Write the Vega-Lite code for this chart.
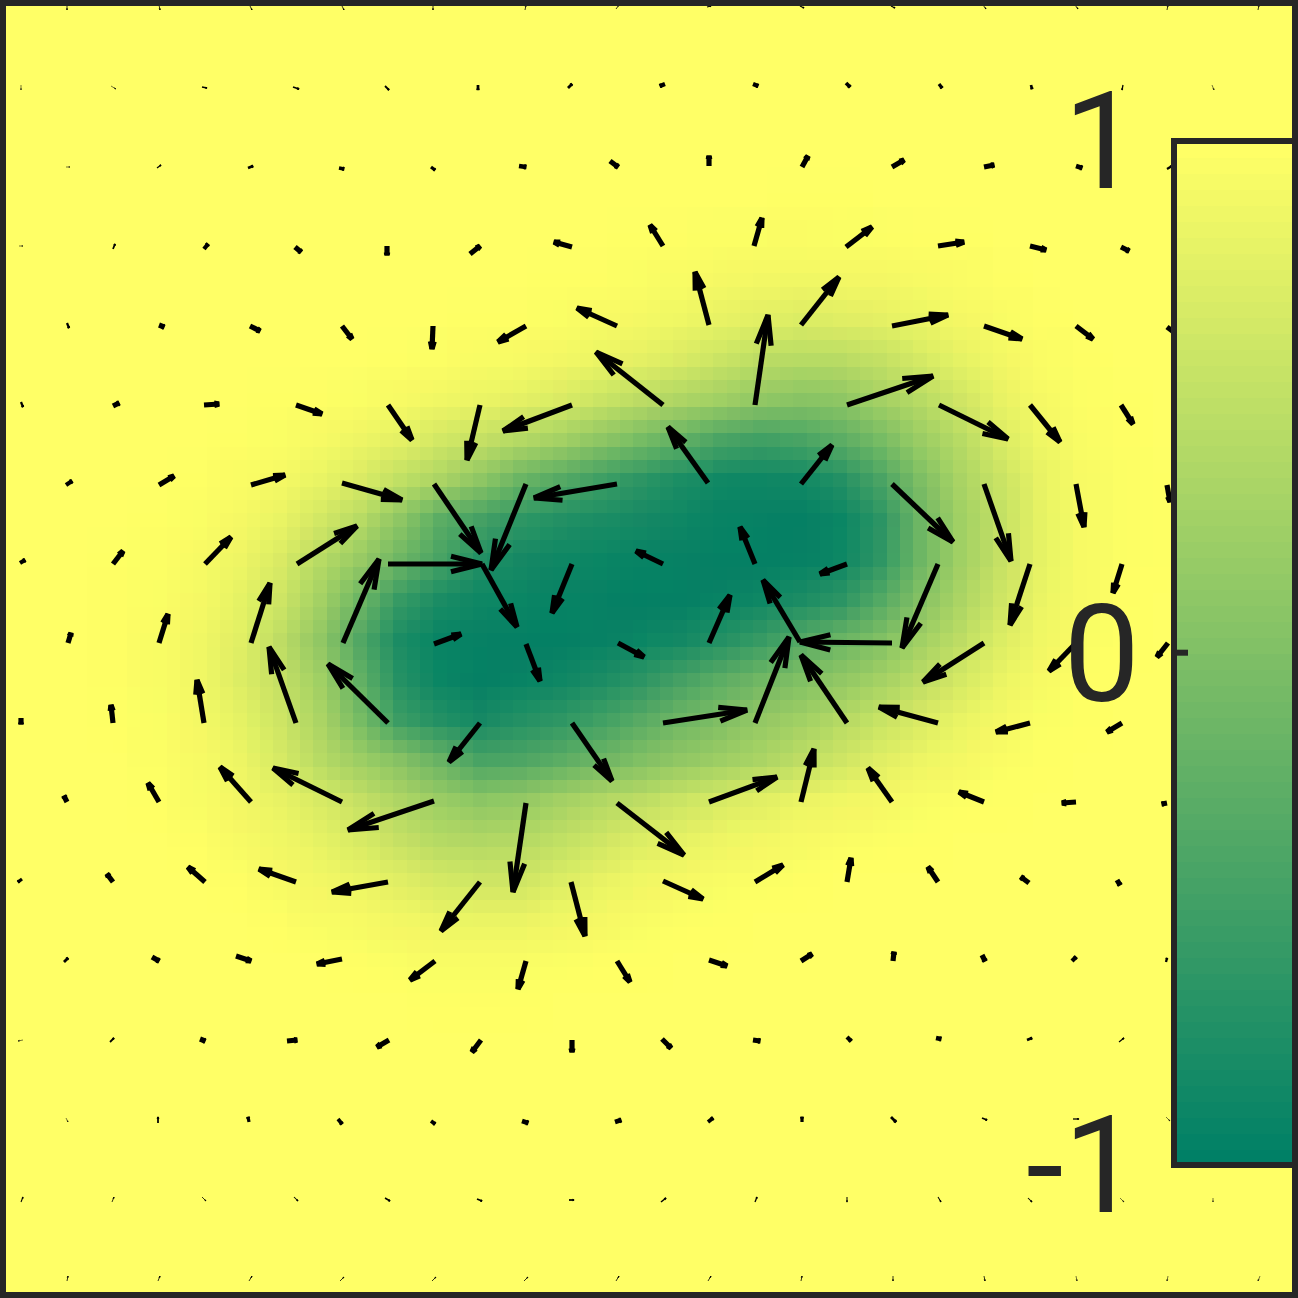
{"$schema":"https://vega.github.io/schema/vega-lite/v6.json","width":1298,"height":1298,"padding":0,"autosize":{"type":"fit","contains":"padding"},"background":"#ffff66","config":{"view":{"stroke":null},"axis":{"disable":true},"legend":{"disable":true}},
"datasets":{
"heat":[
{"x":800,"y":200,"v":0.995},{"x":840,"y":200,"v":0.995},
{"x":640,"y":240,"v":0.995},{"x":680,"y":240,"v":0.99},{"x":720,"y":240,"v":0.985},{"x":760,"y":240,"v":0.98},{"x":800,"y":240,"v":0.975},{"x":840,"y":240,"v":0.98},{"x":880,"y":240,"v":0.985},{"x":920,"y":240,"v":0.99},{"x":960,"y":240,"v":0.995},
{"x":560,"y":280,"v":0.995},{"x":600,"y":280,"v":0.99},{"x":640,"y":280,"v":0.98},{"x":680,"y":280,"v":0.965},{"x":720,"y":280,"v":0.94},{"x":760,"y":280,"v":0.91},{"x":800,"y":280,"v":0.9},{"x":840,"y":280,"v":0.91},{"x":880,"y":280,"v":0.92},{"x":920,"y":280,"v":0.95},{"x":960,"y":280,"v":0.975},{"x":1000,"y":280,"v":0.99},
{"x":480,"y":320,"v":0.995},{"x":520,"y":320,"v":0.99},{"x":560,"y":320,"v":0.98},{"x":600,"y":320,"v":0.96},{"x":640,"y":320,"v":0.93},{"x":680,"y":320,"v":0.89},{"x":720,"y":320,"v":0.83},{"x":760,"y":320,"v":0.78},{"x":800,"y":320,"v":0.74},{"x":840,"y":320,"v":0.76},{"x":880,"y":320,"v":0.8},{"x":920,"y":320,"v":0.86},{"x":960,"y":320,"v":0.92},{"x":1000,"y":320,"v":0.97},{"x":1040,"y":320,"v":0.99},
{"x":400,"y":360,"v":0.995},{"x":440,"y":360,"v":0.985},{"x":480,"y":360,"v":0.97},{"x":520,"y":360,"v":0.95},{"x":560,"y":360,"v":0.91},{"x":600,"y":360,"v":0.86},{"x":640,"y":360,"v":0.8},{"x":680,"y":360,"v":0.72},{"x":720,"y":360,"v":0.6},{"x":760,"y":360,"v":0.49},{"x":800,"y":360,"v":0.45},{"x":840,"y":360,"v":0.47},{"x":880,"y":360,"v":0.54},{"x":920,"y":360,"v":0.68},{"x":960,"y":360,"v":0.82},{"x":1000,"y":360,"v":0.91},{"x":1040,"y":360,"v":0.975},{"x":1080,"y":360,"v":0.99},
{"x":280,"y":400,"v":0.995},{"x":320,"y":400,"v":0.99},{"x":360,"y":400,"v":0.98},{"x":400,"y":400,"v":0.95},{"x":440,"y":400,"v":0.9},{"x":480,"y":400,"v":0.85},{"x":520,"y":400,"v":0.8},{"x":560,"y":400,"v":0.72},{"x":600,"y":400,"v":0.6},{"x":640,"y":400,"v":0.48},{"x":680,"y":400,"v":0.38},{"x":720,"y":400,"v":0.28},{"x":760,"y":400,"v":0.15},{"x":800,"y":400,"v":0.08},{"x":840,"y":400,"v":0.12},{"x":880,"y":400,"v":0.29},{"x":920,"y":400,"v":0.45},{"x":960,"y":400,"v":0.64},{"x":1000,"y":400,"v":0.83},{"x":1040,"y":400,"v":0.94},{"x":1080,"y":400,"v":0.985},{"x":1120,"y":400,"v":0.995},
{"x":240,"y":440,"v":0.995},{"x":280,"y":440,"v":0.98},{"x":320,"y":440,"v":0.95},{"x":360,"y":440,"v":0.88},{"x":400,"y":440,"v":0.8},{"x":440,"y":440,"v":0.66},{"x":480,"y":440,"v":0.55},{"x":520,"y":440,"v":0.42},{"x":560,"y":440,"v":0.3},{"x":600,"y":440,"v":0.12},{"x":640,"y":440,"v":-0.05},{"x":680,"y":440,"v":-0.22},{"x":720,"y":440,"v":-0.4},{"x":760,"y":440,"v":-0.48},{"x":800,"y":440,"v":-0.42},{"x":840,"y":440,"v":-0.27},{"x":880,"y":440,"v":-0.05},{"x":920,"y":440,"v":0.22},{"x":960,"y":440,"v":0.46},{"x":1000,"y":440,"v":0.72},{"x":1040,"y":440,"v":0.89},{"x":1080,"y":440,"v":0.97},{"x":1120,"y":440,"v":0.99},
{"x":200,"y":480,"v":0.995},{"x":240,"y":480,"v":0.975},{"x":280,"y":480,"v":0.93},{"x":320,"y":480,"v":0.84},{"x":360,"y":480,"v":0.72},{"x":400,"y":480,"v":0.52},{"x":440,"y":480,"v":0.36},{"x":480,"y":480,"v":0.12},{"x":520,"y":480,"v":-0.15},{"x":560,"y":480,"v":-0.32},{"x":600,"y":480,"v":-0.5},{"x":640,"y":480,"v":-0.63},{"x":680,"y":480,"v":-0.77},{"x":720,"y":480,"v":-0.85},{"x":760,"y":480,"v":-0.88},{"x":800,"y":480,"v":-0.85},{"x":840,"y":480,"v":-0.72},{"x":880,"y":480,"v":-0.41},{"x":920,"y":480,"v":-0.01},{"x":960,"y":480,"v":0.34},{"x":1000,"y":480,"v":0.59},{"x":1040,"y":480,"v":0.83},{"x":1080,"y":480,"v":0.95},{"x":1120,"y":480,"v":0.985},{"x":1160,"y":480,"v":0.995},
{"x":160,"y":520,"v":0.995},{"x":200,"y":520,"v":0.98},{"x":240,"y":520,"v":0.94},{"x":280,"y":520,"v":0.84},{"x":320,"y":520,"v":0.66},{"x":360,"y":520,"v":0.45},{"x":400,"y":520,"v":0.12},{"x":440,"y":520,"v":-0.28},{"x":480,"y":520,"v":-0.45},{"x":520,"y":520,"v":-0.62},{"x":560,"y":520,"v":-0.72},{"x":600,"y":520,"v":-0.78},{"x":640,"y":520,"v":-0.82},{"x":680,"y":520,"v":-0.88},{"x":720,"y":520,"v":-0.92},{"x":760,"y":520,"v":-0.94},{"x":800,"y":520,"v":-0.95},{"x":840,"y":520,"v":-0.9},{"x":880,"y":520,"v":-0.65},{"x":920,"y":520,"v":-0.14},{"x":960,"y":520,"v":0.27},{"x":1000,"y":520,"v":0.54},{"x":1040,"y":520,"v":0.82},{"x":1080,"y":520,"v":0.95},{"x":1120,"y":520,"v":0.985},{"x":1160,"y":520,"v":0.995},
{"x":120,"y":560,"v":0.995},{"x":160,"y":560,"v":0.985},{"x":200,"y":560,"v":0.96},{"x":240,"y":560,"v":0.88},{"x":280,"y":560,"v":0.72},{"x":320,"y":560,"v":0.45},{"x":360,"y":560,"v":0.2},{"x":400,"y":560,"v":-0.12},{"x":440,"y":560,"v":-0.42},{"x":480,"y":560,"v":-0.72},{"x":520,"y":560,"v":-0.82},{"x":560,"y":560,"v":-0.88},{"x":600,"y":560,"v":-0.9},{"x":640,"y":560,"v":-0.92},{"x":680,"y":560,"v":-0.93},{"x":720,"y":560,"v":-0.95},{"x":760,"y":560,"v":-0.95},{"x":800,"y":560,"v":-0.94},{"x":840,"y":560,"v":-0.89},{"x":880,"y":560,"v":-0.62},{"x":920,"y":560,"v":-0.12},{"x":960,"y":560,"v":0.28},{"x":1000,"y":560,"v":0.55},{"x":1040,"y":560,"v":0.82},{"x":1080,"y":560,"v":0.95},{"x":1120,"y":560,"v":0.985},{"x":1160,"y":560,"v":0.995},
{"x":120,"y":600,"v":0.99},{"x":160,"y":600,"v":0.98},{"x":200,"y":600,"v":0.94},{"x":240,"y":600,"v":0.82},{"x":280,"y":600,"v":0.62},{"x":320,"y":600,"v":0.3},{"x":360,"y":600,"v":-0.12},{"x":400,"y":600,"v":-0.55},{"x":440,"y":600,"v":-0.78},{"x":480,"y":600,"v":-0.88},{"x":520,"y":600,"v":-0.9},{"x":560,"y":600,"v":-0.92},{"x":600,"y":600,"v":-0.94},{"x":640,"y":600,"v":-0.96},{"x":680,"y":600,"v":-0.95},{"x":720,"y":600,"v":-0.92},{"x":760,"y":600,"v":-0.87},{"x":800,"y":600,"v":-0.78},{"x":840,"y":600,"v":-0.65},{"x":880,"y":600,"v":-0.33},{"x":920,"y":600,"v":0.04},{"x":960,"y":600,"v":0.36},{"x":1000,"y":600,"v":0.62},{"x":1040,"y":600,"v":0.85},{"x":1080,"y":600,"v":0.96},{"x":1120,"y":600,"v":0.99},
{"x":120,"y":640,"v":0.99},{"x":160,"y":640,"v":0.97},{"x":200,"y":640,"v":0.9},{"x":240,"y":640,"v":0.78},{"x":280,"y":640,"v":0.5},{"x":320,"y":640,"v":0.15},{"x":360,"y":640,"v":-0.35},{"x":400,"y":640,"v":-0.78},{"x":440,"y":640,"v":-0.92},{"x":480,"y":640,"v":-0.94},{"x":520,"y":640,"v":-0.95},{"x":560,"y":640,"v":-0.96},{"x":600,"y":640,"v":-0.93},{"x":640,"y":640,"v":-0.9},{"x":680,"y":640,"v":-0.83},{"x":720,"y":640,"v":-0.72},{"x":760,"y":640,"v":-0.55},{"x":800,"y":640,"v":-0.35},{"x":840,"y":640,"v":-0.17},{"x":880,"y":640,"v":0.02},{"x":920,"y":640,"v":0.28},{"x":960,"y":640,"v":0.49},{"x":1000,"y":640,"v":0.74},{"x":1040,"y":640,"v":0.9},{"x":1080,"y":640,"v":0.97},{"x":1120,"y":640,"v":0.995},
{"x":120,"y":680,"v":0.99},{"x":160,"y":680,"v":0.97},{"x":200,"y":680,"v":0.9},{"x":240,"y":680,"v":0.75},{"x":280,"y":680,"v":0.55},{"x":320,"y":680,"v":0.28},{"x":360,"y":680,"v":-0.22},{"x":400,"y":680,"v":-0.7},{"x":440,"y":680,"v":-0.9},{"x":480,"y":680,"v":-0.95},{"x":520,"y":680,"v":-0.92},{"x":560,"y":680,"v":-0.87},{"x":600,"y":680,"v":-0.78},{"x":640,"y":680,"v":-0.65},{"x":680,"y":680,"v":-0.45},{"x":720,"y":680,"v":-0.27},{"x":760,"y":680,"v":-0.1},{"x":800,"y":680,"v":0.03},{"x":840,"y":680,"v":0.15},{"x":880,"y":680,"v":0.3},{"x":920,"y":680,"v":0.48},{"x":960,"y":680,"v":0.68},{"x":1000,"y":680,"v":0.85},{"x":1040,"y":680,"v":0.95},{"x":1080,"y":680,"v":0.99},
{"x":120,"y":720,"v":0.995},{"x":160,"y":720,"v":0.98},{"x":200,"y":720,"v":0.93},{"x":240,"y":720,"v":0.82},{"x":280,"y":720,"v":0.62},{"x":320,"y":720,"v":0.36},{"x":360,"y":720,"v":-0.05},{"x":400,"y":720,"v":-0.52},{"x":440,"y":720,"v":-0.72},{"x":480,"y":720,"v":-0.82},{"x":520,"y":720,"v":-0.72},{"x":560,"y":720,"v":-0.62},{"x":600,"y":720,"v":-0.48},{"x":640,"y":720,"v":-0.3},{"x":680,"y":720,"v":-0.12},{"x":720,"y":720,"v":0},{"x":760,"y":720,"v":0.17},{"x":800,"y":720,"v":0.28},{"x":840,"y":720,"v":0.42},{"x":880,"y":720,"v":0.57},{"x":920,"y":720,"v":0.72},{"x":960,"y":720,"v":0.84},{"x":1000,"y":720,"v":0.93},{"x":1040,"y":720,"v":0.98},{"x":1080,"y":720,"v":0.995},
{"x":160,"y":760,"v":0.985},{"x":200,"y":760,"v":0.95},{"x":240,"y":760,"v":0.87},{"x":280,"y":760,"v":0.7},{"x":320,"y":760,"v":0.45},{"x":360,"y":760,"v":0.25},{"x":400,"y":760,"v":0.05},{"x":440,"y":760,"v":-0.18},{"x":480,"y":760,"v":-0.42},{"x":520,"y":760,"v":-0.38},{"x":560,"y":760,"v":-0.28},{"x":600,"y":760,"v":-0.12},{"x":640,"y":760,"v":0.03},{"x":680,"y":760,"v":0.15},{"x":720,"y":760,"v":0.25},{"x":760,"y":760,"v":0.35},{"x":800,"y":760,"v":0.5},{"x":840,"y":760,"v":0.62},{"x":880,"y":760,"v":0.76},{"x":920,"y":760,"v":0.87},{"x":960,"y":760,"v":0.93},{"x":1000,"y":760,"v":0.975},{"x":1040,"y":760,"v":0.995},
{"x":160,"y":800,"v":0.995},{"x":200,"y":800,"v":0.97},{"x":240,"y":800,"v":0.91},{"x":280,"y":800,"v":0.83},{"x":320,"y":800,"v":0.7},{"x":360,"y":800,"v":0.55},{"x":400,"y":800,"v":0.38},{"x":440,"y":800,"v":0.22},{"x":480,"y":800,"v":0.1},{"x":520,"y":800,"v":0.17},{"x":560,"y":800,"v":0.29},{"x":600,"y":800,"v":0.4},{"x":640,"y":800,"v":0.49},{"x":680,"y":800,"v":0.6},{"x":720,"y":800,"v":0.7},{"x":760,"y":800,"v":0.78},{"x":800,"y":800,"v":0.85},{"x":840,"y":800,"v":0.9},{"x":880,"y":800,"v":0.94},{"x":920,"y":800,"v":0.97},{"x":960,"y":800,"v":0.985},{"x":1000,"y":800,"v":0.995},
{"x":200,"y":840,"v":0.99},{"x":240,"y":840,"v":0.96},{"x":280,"y":840,"v":0.9},{"x":320,"y":840,"v":0.82},{"x":360,"y":840,"v":0.7},{"x":400,"y":840,"v":0.55},{"x":440,"y":840,"v":0.43},{"x":480,"y":840,"v":0.4},{"x":520,"y":840,"v":0.42},{"x":560,"y":840,"v":0.52},{"x":600,"y":840,"v":0.63},{"x":640,"y":840,"v":0.74},{"x":680,"y":840,"v":0.81},{"x":720,"y":840,"v":0.88},{"x":760,"y":840,"v":0.92},{"x":800,"y":840,"v":0.95},{"x":840,"y":840,"v":0.975},{"x":880,"y":840,"v":0.985},{"x":920,"y":840,"v":0.995},
{"x":240,"y":880,"v":0.99},{"x":280,"y":880,"v":0.96},{"x":320,"y":880,"v":0.91},{"x":360,"y":880,"v":0.85},{"x":400,"y":880,"v":0.77},{"x":440,"y":880,"v":0.68},{"x":480,"y":880,"v":0.63},{"x":520,"y":880,"v":0.62},{"x":560,"y":880,"v":0.73},{"x":600,"y":880,"v":0.83},{"x":640,"y":880,"v":0.9},{"x":680,"y":880,"v":0.94},{"x":720,"y":880,"v":0.965},{"x":760,"y":880,"v":0.98},{"x":800,"y":880,"v":0.99},
{"x":280,"y":920,"v":0.99},{"x":320,"y":920,"v":0.97},{"x":360,"y":920,"v":0.95},{"x":400,"y":920,"v":0.91},{"x":440,"y":920,"v":0.87},{"x":480,"y":920,"v":0.85},{"x":520,"y":920,"v":0.86},{"x":560,"y":920,"v":0.9},{"x":600,"y":920,"v":0.94},{"x":640,"y":920,"v":0.97},{"x":680,"y":920,"v":0.985},{"x":720,"y":920,"v":0.995},
{"x":360,"y":960,"v":0.99},{"x":400,"y":960,"v":0.98},{"x":440,"y":960,"v":0.97},{"x":480,"y":960,"v":0.965},{"x":520,"y":960,"v":0.97},{"x":560,"y":960,"v":0.98},{"x":600,"y":960,"v":0.99},{"x":640,"y":960,"v":0.995},
{"x":440,"y":1000,"v":0.995},{"x":480,"y":1000,"v":0.99},{"x":520,"y":1000,"v":0.995}
],
"arrows":[
{"x":67,"y":5,"x2":67,"y2":10,"m":0.1},{"x":159,"y":5,"x2":160,"y2":10,"m":0.1},{"x":250,"y":6,"x2":252,"y2":10,"m":0.1},{"x":342,"y":6,"x2":344,"y2":10,"m":0.1},{"x":433,"y":5,"x2":433,"y2":10,"m":0.1},{"x":525,"y":10,"x2":526,"y2":5,"m":0.1},{"x":616,"y":9,"x2":619,"y2":5,"m":0.1},{"x":707,"y":7,"x2":711,"y2":6,"m":0.2},{"x":800,"y":6,"x2":804,"y2":8,"m":0.2},{"x":891,"y":6,"x2":895,"y2":8,"m":0.2},{"x":983,"y":5,"x2":986,"y2":9,"m":0.1},{"x":1075,"y":5,"x2":1078,"y2":9,"m":0.1},{"x":1167,"y":10,"x2":1168,"y2":5,"m":0.1},{"x":1258,"y":10,"x2":1259,"y2":5,"m":0.1},
{"x":21,"y":85,"x2":21,"y2":90,"m":0.05},{"x":111,"y":86,"x2":116,"y2":89,"m":0.05},{"x":202,"y":87,"x2":207,"y2":88,"m":0.2},{"x":293,"y":87,"x2":299,"y2":89,"m":0.3},{"x":385,"y":86,"x2":389,"y2":90,"m":0.3},{"x":478,"y":85,"x2":478,"y2":90,"m":0.5},{"x":568,"y":88,"x2":572,"y2":84,"m":0.5},{"x":665,"y":84,"x2":660,"y2":86,"m":0.8},{"x":753,"y":84,"x2":758,"y2":86,"m":0.8},{"x":846,"y":83,"x2":850,"y2":87,"m":0.7},{"x":939,"y":84,"x2":942,"y2":88,"m":0.6},{"x":1031,"y":85,"x2":1032,"y2":89,"m":0.5},{"x":1123,"y":85,"x2":1122,"y2":90,"m":0.2},{"x":1212,"y":85,"x2":1214,"y2":90,"m":0.05},
{"x":66,"y":167,"x2":70,"y2":167,"m":0.05},{"x":157,"y":168,"x2":161,"y2":165,"m":0.2},{"x":248,"y":168,"x2":253,"y2":166,"m":0.5},{"x":339,"y":168,"x2":344,"y2":169,"m":0.7},{"x":431,"y":167,"x2":435,"y2":170,"m":0.6},{"x":519,"y":166,"x2":526,"y2":167,"m":0.9},{"x":610,"y":161,"x2":618,"y2":167,"m":1},{"x":709,"y":166,"x2":709,"y2":156,"m":1},{"x":802,"y":167,"x2":808,"y2":156,"m":1},{"x":892,"y":167,"x2":904,"y2":160,"m":1},{"x":984,"y":167,"x2":994,"y2":165,"m":1},{"x":1076,"y":166,"x2":1082,"y2":168,"m":0.9},{"x":1167,"y":169,"x2":1172,"y2":166,"m":0.4},
{"x":19,"y":246,"x2":23,"y2":246,"m":0.05},{"x":113,"y":249,"x2":115,"y2":244,"m":0.3},{"x":204,"y":249,"x2":208,"y2":244,"m":0.8},{"x":295,"y":247,"x2":301,"y2":252,"m":1},{"x":387,"y":246,"x2":387,"y2":255,"m":1},{"x":470,"y":254,"x2":480,"y2":246,"m":1},{"x":572,"y":247,"x2":554,"y2":242,"m":1},{"x":663,"y":246,"x2":650,"y2":225,"m":1},{"x":754,"y":246,"x2":762,"y2":218,"m":1},{"x":846,"y":247,"x2":872,"y2":227,"m":1},{"x":938,"y":246,"x2":964,"y2":242,"m":1},{"x":1030,"y":246,"x2":1046,"y2":250,"m":1},{"x":1121,"y":247,"x2":1129,"y2":251,"m":1},
{"x":67,"y":323,"x2":69,"y2":328,"m":0.4},{"x":159,"y":325,"x2":164,"y2":327,"m":1},{"x":250,"y":326,"x2":260,"y2":331,"m":1},{"x":342,"y":326,"x2":352,"y2":339,"m":1},{"x":433,"y":326,"x2":432,"y2":349,"m":1},{"x":526,"y":326,"x2":498,"y2":342,"m":1},{"x":617,"y":326,"x2":577,"y2":308,"m":1},{"x":709,"y":325,"x2":695,"y2":272,"m":1},{"x":801,"y":325,"x2":839,"y2":277,"m":1},{"x":892,"y":326,"x2":948,"y2":315,"m":1},{"x":984,"y":326,"x2":1022,"y2":339,"m":1},{"x":1076,"y":326,"x2":1093,"y2":339,"m":1},{"x":1167,"y":327,"x2":1175,"y2":333,"m":1},
{"x":21,"y":402,"x2":23,"y2":407,"m":0.4},{"x":113,"y":406,"x2":119,"y2":403,"m":1},{"x":204,"y":405,"x2":219,"y2":404,"m":1},{"x":296,"y":405,"x2":322,"y2":414,"m":1},{"x":388,"y":405,"x2":412,"y2":440,"m":1},{"x":480,"y":405,"x2":467,"y2":460,"m":1},{"x":572,"y":405,"x2":503,"y2":431,"m":1},{"x":663,"y":405,"x2":596,"y2":352,"m":1},{"x":755,"y":405,"x2":768,"y2":315,"m":1},{"x":847,"y":405,"x2":933,"y2":376,"m":1},{"x":939,"y":405,"x2":1008,"y2":439,"m":1},{"x":1030,"y":405,"x2":1060,"y2":442,"m":1},{"x":1121,"y":405,"x2":1133,"y2":424,"m":1},
{"x":66,"y":485,"x2":72,"y2":481,"m":0.8},{"x":159,"y":485,"x2":174,"y2":476,"m":1},{"x":251,"y":485,"x2":285,"y2":475,"m":1},{"x":342,"y":483,"x2":402,"y2":500,"m":1},{"x":434,"y":484,"x2":481,"y2":553,"m":1},{"x":526,"y":484,"x2":491,"y2":570,"m":1},{"x":617,"y":484,"x2":534,"y2":498,"m":1},{"x":708,"y":483,"x2":668,"y2":427,"m":1},{"x":801,"y":484,"x2":832,"y2":445,"m":1},{"x":892,"y":484,"x2":953,"y2":542,"m":1},{"x":984,"y":484,"x2":1011,"y2":561,"m":1},{"x":1076,"y":484,"x2":1084,"y2":527,"m":1},{"x":1167,"y":485,"x2":1170,"y2":502,"m":1},
{"x":20,"y":563,"x2":25,"y2":560,"m":0.8},{"x":113,"y":564,"x2":123,"y2":551,"m":1},{"x":205,"y":564,"x2":231,"y2":537,"m":1},{"x":297,"y":564,"x2":357,"y2":526,"m":1},{"x":388,"y":564,"x2":482,"y2":564,"m":1},{"x":482,"y":564,"x2":517,"y2":627,"m":1},{"x":572,"y":564,"x2":552,"y2":613,"m":1},{"x":663,"y":564,"x2":636,"y2":551,"m":1},{"x":755,"y":564,"x2":740,"y2":527,"m":1},{"x":847,"y":564,"x2":820,"y2":574,"m":1},{"x":938,"y":564,"x2":902,"y2":648,"m":1},{"x":1030,"y":564,"x2":1010,"y2":625,"m":1},{"x":1122,"y":564,"x2":1113,"y2":593,"m":1},
{"x":68,"y":643,"x2":71,"y2":633,"m":1},{"x":159,"y":643,"x2":168,"y2":614,"m":1},{"x":251,"y":643,"x2":270,"y2":583,"m":1},{"x":343,"y":643,"x2":379,"y2":559,"m":1},{"x":434,"y":644,"x2":461,"y2":634,"m":1},{"x":526,"y":644,"x2":540,"y2":681,"m":1},{"x":618,"y":643,"x2":644,"y2":657,"m":1},{"x":709,"y":643,"x2":730,"y2":595,"m":1},{"x":800,"y":642,"x2":763,"y2":580,"m":1},{"x":892,"y":643,"x2":800,"y2":642,"m":1},{"x":984,"y":643,"x2":923,"y2":682,"m":1},{"x":1076,"y":643,"x2":1049,"y2":671,"m":1},{"x":1168,"y":643,"x2":1157,"y2":657,"m":1},
{"x":21,"y":718,"x2":21,"y2":724,"m":1},{"x":113,"y":723,"x2":111,"y2":705,"m":1},{"x":204,"y":723,"x2":197,"y2":680,"m":1},{"x":296,"y":723,"x2":269,"y2":647,"m":1},{"x":388,"y":723,"x2":328,"y2":664,"m":1},{"x":480,"y":723,"x2":449,"y2":762,"m":1},{"x":572,"y":723,"x2":612,"y2":781,"m":1},{"x":663,"y":723,"x2":747,"y2":710,"m":1},{"x":755,"y":723,"x2":789,"y2":637,"m":1},{"x":847,"y":723,"x2":801,"y2":655,"m":1},{"x":938,"y":723,"x2":879,"y2":707,"m":1},{"x":1030,"y":723,"x2":996,"y2":732,"m":1},{"x":1122,"y":723,"x2":1107,"y2":732,"m":1},
{"x":67,"y":802,"x2":64,"y2":796,"m":1},{"x":159,"y":802,"x2":148,"y2":783,"m":1},{"x":251,"y":802,"x2":220,"y2":767,"m":1},{"x":342,"y":802,"x2":273,"y2":768,"m":1},{"x":434,"y":801,"x2":348,"y2":830,"m":1},{"x":526,"y":803,"x2":513,"y2":892,"m":1},{"x":617,"y":803,"x2":684,"y2":855,"m":1},{"x":709,"y":802,"x2":777,"y2":777,"m":1},{"x":801,"y":802,"x2":814,"y2":749,"m":1},{"x":892,"y":802,"x2":868,"y2":768,"m":1},{"x":984,"y":802,"x2":959,"y2":792,"m":1},{"x":1076,"y":802,"x2":1062,"y2":803,"m":1},{"x":1167,"y":803,"x2":1162,"y2":804,"m":1},
{"x":22,"y":879,"x2":18,"y2":882,"m":0.6},{"x":113,"y":882,"x2":107,"y2":874,"m":1},{"x":205,"y":882,"x2":188,"y2":867,"m":1},{"x":296,"y":882,"x2":259,"y2":869,"m":1},{"x":388,"y":882,"x2":332,"y2":892,"m":1},{"x":480,"y":882,"x2":441,"y2":931,"m":1},{"x":571,"y":882,"x2":585,"y2":936,"m":1},{"x":663,"y":881,"x2":703,"y2":899,"m":1},{"x":755,"y":882,"x2":783,"y2":865,"m":1},{"x":847,"y":882,"x2":851,"y2":858,"m":1},{"x":938,"y":882,"x2":928,"y2":867,"m":1},{"x":1029,"y":883,"x2":1021,"y2":877,"m":1},{"x":1117,"y":880,"x2":1120,"y2":885,"m":1},
{"x":64,"y":962,"x2":68,"y2":958,"m":0.5},{"x":152,"y":957,"x2":159,"y2":961,"m":1},{"x":236,"y":956,"x2":251,"y2":961,"m":1},{"x":342,"y":959,"x2":317,"y2":964,"m":1},{"x":435,"y":961,"x2":410,"y2":980,"m":1},{"x":526,"y":961,"x2":518,"y2":989,"m":1},{"x":617,"y":961,"x2":630,"y2":982,"m":1},{"x":709,"y":960,"x2":727,"y2":966,"m":1},{"x":801,"y":961,"x2":812,"y2":954,"m":1},{"x":893,"y":961,"x2":894,"y2":952,"m":1},{"x":982,"y":955,"x2":985,"y2":961,"m":1},{"x":1072,"y":961,"x2":1076,"y2":957,"m":0.8},{"x":1166,"y":962,"x2":1167,"y2":958,"m":0.4},
{"x":23,"y":1040,"x2":18,"y2":1041,"m":0.05},{"x":110,"y":1042,"x2":114,"y2":1038,"m":0.3},{"x":200,"y":1039,"x2":205,"y2":1041,"m":1},{"x":287,"y":1041,"x2":297,"y2":1040,"m":1},{"x":389,"y":1040,"x2":377,"y2":1047,"m":1},{"x":481,"y":1040,"x2":472,"y2":1052,"m":1},{"x":572,"y":1040,"x2":572,"y2":1052,"m":1},{"x":662,"y":1039,"x2":671,"y2":1048,"m":1},{"x":753,"y":1040,"x2":760,"y2":1041,"m":1},{"x":847,"y":1037,"x2":851,"y2":1041,"m":0.8},{"x":936,"y":1038,"x2":941,"y2":1039,"m":0.9},{"x":1027,"y":1040,"x2":1032,"y2":1038,"m":0.5},{"x":1119,"y":1042,"x2":1124,"y2":1038,"m":0.2},
{"x":66,"y":1118,"x2":68,"y2":1122,"m":0.05},{"x":158,"y":1123,"x2":158,"y2":1117,"m":0.3},{"x":249,"y":1122,"x2":248,"y2":1117,"m":0.6},{"x":338,"y":1119,"x2":342,"y2":1124,"m":0.7},{"x":431,"y":1121,"x2":435,"y2":1124,"m":0.7},{"x":522,"y":1121,"x2":528,"y2":1123,"m":0.9},{"x":615,"y":1122,"x2":621,"y2":1120,"m":0.9},{"x":708,"y":1122,"x2":713,"y2":1118,"m":0.7},{"x":802,"y":1122,"x2":802,"y2":1117,"m":0.6},{"x":891,"y":1117,"x2":896,"y2":1122,"m":0.5},{"x":982,"y":1118,"x2":987,"y2":1120,"m":0.3},{"x":1073,"y":1119,"x2":1079,"y2":1119,"m":0.2},{"x":1166,"y":1117,"x2":1170,"y2":1121,"m":0.05},
{"x":21,"y":1202,"x2":23,"y2":1197,"m":0.15},{"x":112,"y":1202,"x2":114,"y2":1197,"m":0.1},{"x":202,"y":1197,"x2":206,"y2":1201,"m":0.1},{"x":294,"y":1197,"x2":298,"y2":1201,"m":0.15},{"x":385,"y":1198,"x2":390,"y2":1201,"m":0.25},{"x":477,"y":1199,"x2":482,"y2":1201,"m":0.3},{"x":569,"y":1200,"x2":574,"y2":1200,"m":0.3},{"x":661,"y":1202,"x2":666,"y2":1198,"m":0.25},{"x":755,"y":1202,"x2":757,"y2":1197,"m":0.2},{"x":847,"y":1197,"x2":847,"y2":1202,"m":0.15},{"x":938,"y":1197,"x2":941,"y2":1202,"m":0.15},{"x":1028,"y":1198,"x2":1032,"y2":1202,"m":0.15},{"x":1120,"y":1198,"x2":1124,"y2":1202,"m":0.05},{"x":1213,"y":1198,"x2":1213,"y2":1202,"m":0.05},
{"x":67,"y":1281,"x2":68,"y2":1276,"m":0.1},{"x":158,"y":1281,"x2":160,"y2":1276,"m":0.1},{"x":249,"y":1281,"x2":252,"y2":1276,"m":0.1},{"x":340,"y":1281,"x2":344,"y2":1277,"m":0.1},{"x":432,"y":1281,"x2":436,"y2":1277,"m":0.1},{"x":524,"y":1281,"x2":528,"y2":1277,"m":0.1},{"x":616,"y":1281,"x2":619,"y2":1276,"m":0.1},{"x":708,"y":1281,"x2":711,"y2":1276,"m":0.1},{"x":801,"y":1281,"x2":802,"y2":1276,"m":0.1},{"x":893,"y":1276,"x2":893,"y2":1281,"m":0.1},{"x":984,"y":1276,"x2":985,"y2":1281,"m":0.1},{"x":1076,"y":1276,"x2":1077,"y2":1281,"m":0.05},{"x":1168,"y":1276,"x2":1167,"y2":1281,"m":0.05},{"x":1260,"y":1276,"x2":1258,"y2":1281,"m":0.05}
],
"bar":[
{"y":142,"y2":158,"v":1},{"y":158,"y2":174,"v":0.968},{"y":174,"y2":190,"v":0.937},{"y":190,"y2":206,"v":0.905},{"y":206,"y2":222,"v":0.873},{"y":222,"y2":238,"v":0.841},{"y":238,"y2":254,"v":0.81},{"y":254,"y2":270,"v":0.778},{"y":270,"y2":286,"v":0.746},{"y":286,"y2":302,"v":0.714},{"y":302,"y2":318,"v":0.683},{"y":318,"y2":334,"v":0.651},{"y":334,"y2":350,"v":0.619},{"y":350,"y2":366,"v":0.587},{"y":366,"y2":382,"v":0.556},{"y":382,"y2":398,"v":0.524},{"y":398,"y2":414,"v":0.492},{"y":414,"y2":430,"v":0.46},{"y":430,"y2":446,"v":0.429},{"y":446,"y2":462,"v":0.397},{"y":462,"y2":478,"v":0.365},{"y":478,"y2":494,"v":0.333},{"y":494,"y2":510,"v":0.302},{"y":510,"y2":526,"v":0.27},{"y":526,"y2":542,"v":0.238},{"y":542,"y2":558,"v":0.206},{"y":558,"y2":574,"v":0.175},{"y":574,"y2":590,"v":0.143},{"y":590,"y2":606,"v":0.111},{"y":606,"y2":622,"v":0.079},{"y":622,"y2":638,"v":0.048},{"y":638,"y2":654,"v":0.016},{"y":654,"y2":670,"v":-0.016},{"y":670,"y2":686,"v":-0.048},{"y":686,"y2":702,"v":-0.079},{"y":702,"y2":718,"v":-0.111},{"y":718,"y2":734,"v":-0.143},{"y":734,"y2":750,"v":-0.175},{"y":750,"y2":766,"v":-0.206},{"y":766,"y2":782,"v":-0.238},{"y":782,"y2":798,"v":-0.27},{"y":798,"y2":814,"v":-0.302},{"y":814,"y2":830,"v":-0.333},{"y":830,"y2":846,"v":-0.365},{"y":846,"y2":862,"v":-0.397},{"y":862,"y2":878,"v":-0.429},{"y":878,"y2":894,"v":-0.46},{"y":894,"y2":910,"v":-0.492},{"y":910,"y2":926,"v":-0.524},{"y":926,"y2":942,"v":-0.556},{"y":942,"y2":958,"v":-0.587},{"y":958,"y2":974,"v":-0.619},{"y":974,"y2":990,"v":-0.651},{"y":990,"y2":1006,"v":-0.683},{"y":1006,"y2":1022,"v":-0.714},{"y":1022,"y2":1038,"v":-0.746},{"y":1038,"y2":1054,"v":-0.778},{"y":1054,"y2":1070,"v":-0.81},{"y":1070,"y2":1086,"v":-0.841},{"y":1086,"y2":1102,"v":-0.873},{"y":1102,"y2":1118,"v":-0.905},{"y":1118,"y2":1134,"v":-0.937},{"y":1134,"y2":1150,"v":-0.968},{"y":1150,"y2":1166,"v":-1}
]},
"layer":[
{"data":{"name":"heat"},"transform":[{"calculate":"datum.x-33","as":"xa"},{"calculate":"datum.x+7","as":"xb"},{"calculate":"datum.y-33","as":"ya"},{"calculate":"datum.y+7","as":"yb"}],"mark":{"type":"rect","opacity":1},"encoding":{"x":{"field":"xa","type":"quantitative","scale":{"domain":[0,1298],"nice":false,"zero":false}},"x2":{"field":"xb"},"y":{"field":"ya","type":"quantitative","scale":{"domain":[0,1298],"reverse":true,"nice":false,"zero":false}},"y2":{"field":"yb"},"color":{"field":"v","type":"quantitative","scale":{"domain":[-1,1],"range":["#008066","#ffff66"],"interpolate":"rgb"}}}},
{"data":{"name":"heat"},"transform":[{"calculate":"datum.x-20","as":"xa"},{"calculate":"datum.x+20","as":"xb"},{"calculate":"datum.y-33","as":"ya"},{"calculate":"datum.y+7","as":"yb"}],"mark":{"type":"rect","opacity":0.5},"encoding":{"x":{"field":"xa","type":"quantitative"},"x2":{"field":"xb"},"y":{"field":"ya","type":"quantitative"},"y2":{"field":"yb"},"color":{"field":"v","type":"quantitative"}}},
{"data":{"name":"heat"},"transform":[{"calculate":"datum.x-7","as":"xa"},{"calculate":"datum.x+33","as":"xb"},{"calculate":"datum.y-33","as":"ya"},{"calculate":"datum.y+7","as":"yb"}],"mark":{"type":"rect","opacity":0.3333},"encoding":{"x":{"field":"xa","type":"quantitative"},"x2":{"field":"xb"},"y":{"field":"ya","type":"quantitative"},"y2":{"field":"yb"},"color":{"field":"v","type":"quantitative"}}},
{"data":{"name":"heat"},"transform":[{"calculate":"datum.x-33","as":"xa"},{"calculate":"datum.x+7","as":"xb"},{"calculate":"datum.y-20","as":"ya"},{"calculate":"datum.y+20","as":"yb"}],"mark":{"type":"rect","opacity":0.25},"encoding":{"x":{"field":"xa","type":"quantitative"},"x2":{"field":"xb"},"y":{"field":"ya","type":"quantitative"},"y2":{"field":"yb"},"color":{"field":"v","type":"quantitative"}}},
{"data":{"name":"heat"},"transform":[{"calculate":"datum.x-20","as":"xa"},{"calculate":"datum.x+20","as":"xb"},{"calculate":"datum.y-20","as":"ya"},{"calculate":"datum.y+20","as":"yb"}],"mark":{"type":"rect","opacity":0.2},"encoding":{"x":{"field":"xa","type":"quantitative"},"x2":{"field":"xb"},"y":{"field":"ya","type":"quantitative"},"y2":{"field":"yb"},"color":{"field":"v","type":"quantitative"}}},
{"data":{"name":"heat"},"transform":[{"calculate":"datum.x-7","as":"xa"},{"calculate":"datum.x+33","as":"xb"},{"calculate":"datum.y-20","as":"ya"},{"calculate":"datum.y+20","as":"yb"}],"mark":{"type":"rect","opacity":0.1667},"encoding":{"x":{"field":"xa","type":"quantitative"},"x2":{"field":"xb"},"y":{"field":"ya","type":"quantitative"},"y2":{"field":"yb"},"color":{"field":"v","type":"quantitative"}}},
{"data":{"name":"heat"},"transform":[{"calculate":"datum.x-33","as":"xa"},{"calculate":"datum.x+7","as":"xb"},{"calculate":"datum.y-7","as":"ya"},{"calculate":"datum.y+33","as":"yb"}],"mark":{"type":"rect","opacity":0.1429},"encoding":{"x":{"field":"xa","type":"quantitative"},"x2":{"field":"xb"},"y":{"field":"ya","type":"quantitative"},"y2":{"field":"yb"},"color":{"field":"v","type":"quantitative"}}},
{"data":{"name":"heat"},"transform":[{"calculate":"datum.x-20","as":"xa"},{"calculate":"datum.x+20","as":"xb"},{"calculate":"datum.y-7","as":"ya"},{"calculate":"datum.y+33","as":"yb"}],"mark":{"type":"rect","opacity":0.125},"encoding":{"x":{"field":"xa","type":"quantitative"},"x2":{"field":"xb"},"y":{"field":"ya","type":"quantitative"},"y2":{"field":"yb"},"color":{"field":"v","type":"quantitative"}}},
{"data":{"name":"heat"},"transform":[{"calculate":"datum.x-7","as":"xa"},{"calculate":"datum.x+33","as":"xb"},{"calculate":"datum.y-7","as":"ya"},{"calculate":"datum.y+33","as":"yb"}],"mark":{"type":"rect","opacity":0.1111},"encoding":{"x":{"field":"xa","type":"quantitative"},"x2":{"field":"xb"},"y":{"field":"ya","type":"quantitative"},"y2":{"field":"yb"},"color":{"field":"v","type":"quantitative"}}},
{"data":{"name":"arrows"},"mark":{"type":"rule","color":"#000000","strokeCap":"butt"},"encoding":{"x":{"field":"x","type":"quantitative"},"x2":{"field":"x2"},"y":{"field":"y","type":"quantitative"},"y2":{"field":"y2"},"strokeWidth":{"field":"m","type":"quantitative","scale":{"domain":[0,1],"range":[0.3,5.2]}}}},
{"data":{"name":"arrows"},"transform":[{"calculate":"atan2(datum.x2-datum.x,datum.y-datum.y2)*180/PI","as":"ang"},{"calculate":"0.4356*(pow(datum.x2-datum.x,2)+pow(datum.y2-datum.y,2))","as":"hs"}],"mark":{"type":"point","shape":"M-0.25,1L0,0L0.25,1","filled":false,"color":"#000000","opacity":1,"strokeJoin":"bevel"},"encoding":{"x":{"field":"x2","type":"quantitative"},"y":{"field":"y2","type":"quantitative"},"angle":{"field":"ang","type":"quantitative","scale":null},"size":{"field":"hs","type":"quantitative","scale":null},"strokeWidth":{"field":"m","type":"quantitative"}}},
{"data":{"values":[{"x":1177,"x2":1292,"y":138,"y2":1168}]},"mark":{"type":"rect","color":"#ffff66"},"encoding":{"x":{"field":"x","type":"quantitative"},"x2":{"field":"x2"},"y":{"field":"y","type":"quantitative"},"y2":{"field":"y2"}}},
{"data":{"name":"bar"},"transform":[{"calculate":"1177","as":"xa"},{"calculate":"1292","as":"xb"}],"mark":{"type":"rect"},"encoding":{"x":{"field":"xa","type":"quantitative"},"x2":{"field":"xb"},"y":{"field":"y","type":"quantitative"},"y2":{"field":"y2"},"color":{"field":"v","type":"quantitative"}}},
{"data":{"values":[{"x":1177,"x2":1188,"y":652.7}]},"mark":{"type":"rule","color":"#262626","strokeWidth":6,"strokeCap":"butt"},"encoding":{"x":{"field":"x","type":"quantitative"},"x2":{"field":"x2"},"y":{"field":"y","type":"quantitative"}}},
{"data":{"values":[{"label":"1","x":1140,"y":188},{"label":"0","x":1140,"y":700.5},{"label":"-1","x":1140,"y":1212}]},"mark":{"type":"text","font":"Roboto","fontSize":136,"color":"#262626","align":"right","baseline":"alphabetic"},"encoding":{"x":{"field":"x","type":"quantitative"},"y":{"field":"y","type":"quantitative"},"text":{"field":"label","type":"nominal"}}},
{"data":{"values":[{"x":3,"x2":1295,"y":3,"y2":1295},{"x":1174,"x2":1295,"y":141,"y2":1165}]},"mark":{"type":"rect","filled":false,"stroke":"#262626","strokeWidth":6},"encoding":{"x":{"field":"x","type":"quantitative"},"x2":{"field":"x2"},"y":{"field":"y","type":"quantitative"},"y2":{"field":"y2"}}}
]}
